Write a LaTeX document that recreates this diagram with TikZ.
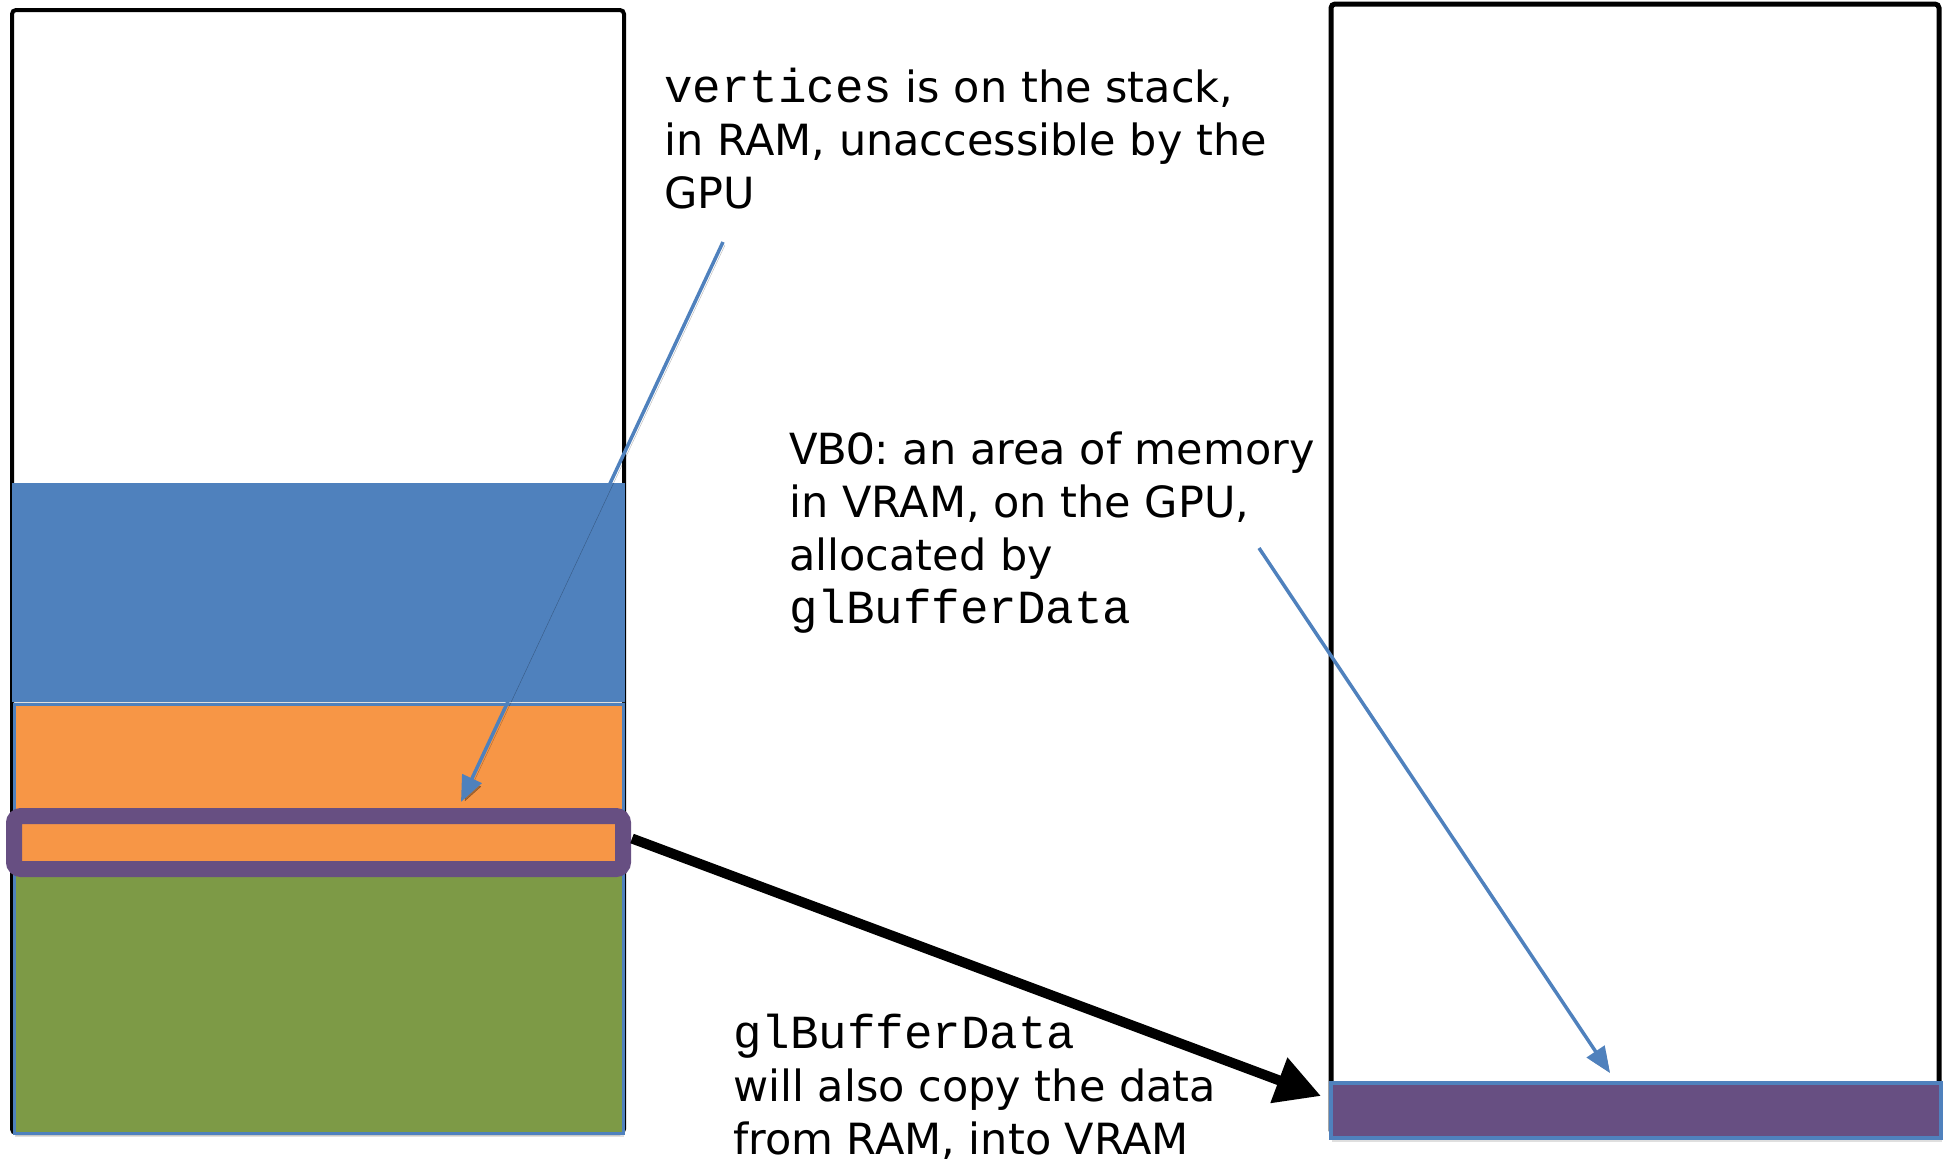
\documentclass[tikz,border=0pt]{standalone}
\usepackage{fontspec}
\setmainfont{DejaVu Sans}
\newfontfamily\codefnt{Liberation Mono}
\usetikzlibrary{arrows.meta,shadows}
\definecolor{memblue}{HTML}{4F81BD}
\definecolor{memorange}{HTML}{F79646}
\definecolor{memgreen}{HTML}{7D9A46}
\definecolor{mempurple}{HTML}{674F82}
\newcommand\code[1]{{\codefnt\fontsize{47.5}{53}\selectfont #1}}
\begin{document}
\begin{tikzpicture}[x=1pt,y=-1pt,
  box/.style={anchor=north west, inner sep=0pt, outer sep=0pt},
  region/.style={box, draw=memblue, line width=3pt},
  softshadow/.style={drop shadow={opacity=0.25, shadow xshift=1pt, shadow yshift=-4pt}},
  note/.style={anchor=base west, inner sep=0pt, font=\fontsize{43}{53}\selectfont},
  pointer/.style={draw=memblue, line width=3.5pt, -{Triangle[length=26pt,width=21pt]},
    preaction={draw=black, opacity=0.3, transform canvas={xshift=2pt,yshift=-3pt}}},
  copyarrow/.style={line width=10pt, -{Triangle[length=45pt,width=46pt]}}
]
\useasboundingbox (0,0) rectangle (1949,1160);

% main memory (RAM)
\node[box, draw=black, line width=4pt, rounded corners=4pt,
      minimum width=612pt, minimum height=1123pt] (ram) at (12,10) {};
\node[region, line width=1pt, fill=memblue, softshadow,
      minimum width=612pt, minimum height=218pt] (heap) at (12,483) {};
\node[region, fill=memorange,
      minimum width=609pt, minimum height=150pt] (stack) at (14,704) {};
\node[region, fill=memgreen, softshadow,
      minimum width=609pt, minimum height=278pt] (data) at (14,855) {};
\node[box, draw=mempurple, fill=memorange, line width=16pt, rounded corners=7pt, softshadow,
      minimum width=609pt, minimum height=53pt] (slot) at (14,816) {};

% video memory (VRAM)
\node[box, draw=black, line width=5pt, rounded corners=4pt,
      minimum width=608pt, minimum height=1130pt] (vram) at (1331,4) {};
\node[region, line width=4pt, fill=mempurple, softshadow,
      minimum width=610pt, minimum height=55pt] (vbo) at (1331,1083) {};

% annotations
\node[note] (stacknote) at (664,102) {\begin{tabular}[t]{@{}l@{}}%
  \code{vertices} is on the stack,\\
  in RAM, unaccessible by the\\
  GPU\end{tabular}};
\node[note] (vbonote) at (789,464) {\begin{tabular}[t]{@{}l@{}}%
  \code{VBO}: an area of memory\\
  in VRAM, on the GPU,\\
  allocated by\\
  \code{glBufferData}\end{tabular}};
\node[note] (copynote) at (733,1048) {\begin{tabular}[t]{@{}l@{}}%
  \code{glBufferData}\\
  will also copy the data\\
  from RAM, into VRAM\end{tabular}};

% connectors
\coordinate (stackfrom) at (723,242);
\coordinate (stackto) at (461,802);
\coordinate (vbofrom) at (1259,548);
\coordinate (vboto) at (1610,1073);
\coordinate (copyto) at (1321,1096);
\draw[pointer] (stackfrom) -- (stackto);
\draw[pointer] (vbofrom) -- (vboto);
\draw[copyarrow] ([xshift=9pt,yshift=4pt]slot.east) -- (copyto);
\end{tikzpicture}
\end{document}
